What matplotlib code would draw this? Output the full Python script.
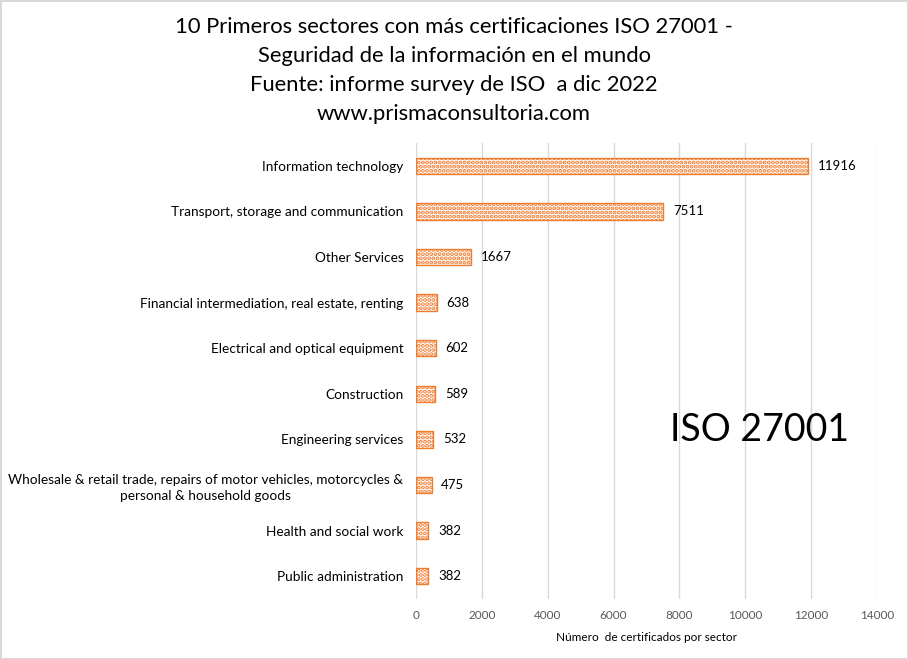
import matplotlib
matplotlib.use("Agg")
import matplotlib.pyplot as plt

sectors = [
    "Information technology",
    "Transport, storage and communication",
    "Other Services",
    "Financial intermediation, real estate, renting",
    "Electrical and optical equipment",
    "Construction",
    "Engineering services",
    "Wholesale & retail trade, repairs of motor vehicles, motorcycles &\npersonal & household goods",
    "Health and social work",
    "Public administration",
]
certs = [11916, 7511, 1667, 638, 602, 589, 532, 475, 382, 382]
xticks = [0, 2000, 4000, 6000, 8000, 10000, 12000, 14000]

orange = "#ED7D31"
plt.rcParams['font.family'] = ['Lato', 'DejaVu Sans']
plt.rcParams['hatch.linewidth'] = 2.0

fig = plt.figure(figsize=(9.08, 6.59), dpi=100)
fig.patch.set_edgecolor("#D9D9D9")
fig.patch.set_linewidth(2)
ax = fig.add_axes([0.458, 0.091, 0.508, 0.692])

pos = list(range(len(sectors)))
bars = ax.barh(pos, certs, height=0.36, color="white", edgecolor=orange,
               hatch="....", linewidth=1.0)
ax.bar_label(bars, labels=[str(v) for v in certs], padding=7, fontsize=9.5, color="#000000")

ax.set_yticks(pos)
ax.set_yticklabels(sectors, fontsize=9.8, multialignment="center", linespacing=1.4)
ax.set_ylim(len(sectors) - 0.5, -0.5)
ax.set_xlim(0, 14000)
ax.set_xticks(xticks)
ax.tick_params(axis="x", labelsize=8.5, labelcolor="#595959", length=0, pad=8)
ax.tick_params(axis="y", length=0, pad=9)
ax.grid(axis="x", color="#D9D9D9", linewidth=1)
ax.set_axisbelow(True)
for s in ax.spines.values():
    s.set_visible(False)
ax.set_xlabel("Número  de certificados por sector", fontsize=8.5, labelpad=8)

fig.text(0.5, 0.974, "10 Primeros sectores con más certificaciones ISO 27001 -\n"
         "Seguridad de la información en el mundo\n"
         "Fuente: informe survey de ISO  a dic 2022\n"
         "www.prismaconsultoria.com",
         ha="center", va="top", fontsize=15.8, linespacing=1.56)

ax.text(0.55, 0.37, "ISO 27001", transform=ax.transAxes, fontsize=27, ha="left", va="center")

fig.savefig("out.png", dpi=100, edgecolor=fig.get_edgecolor())
